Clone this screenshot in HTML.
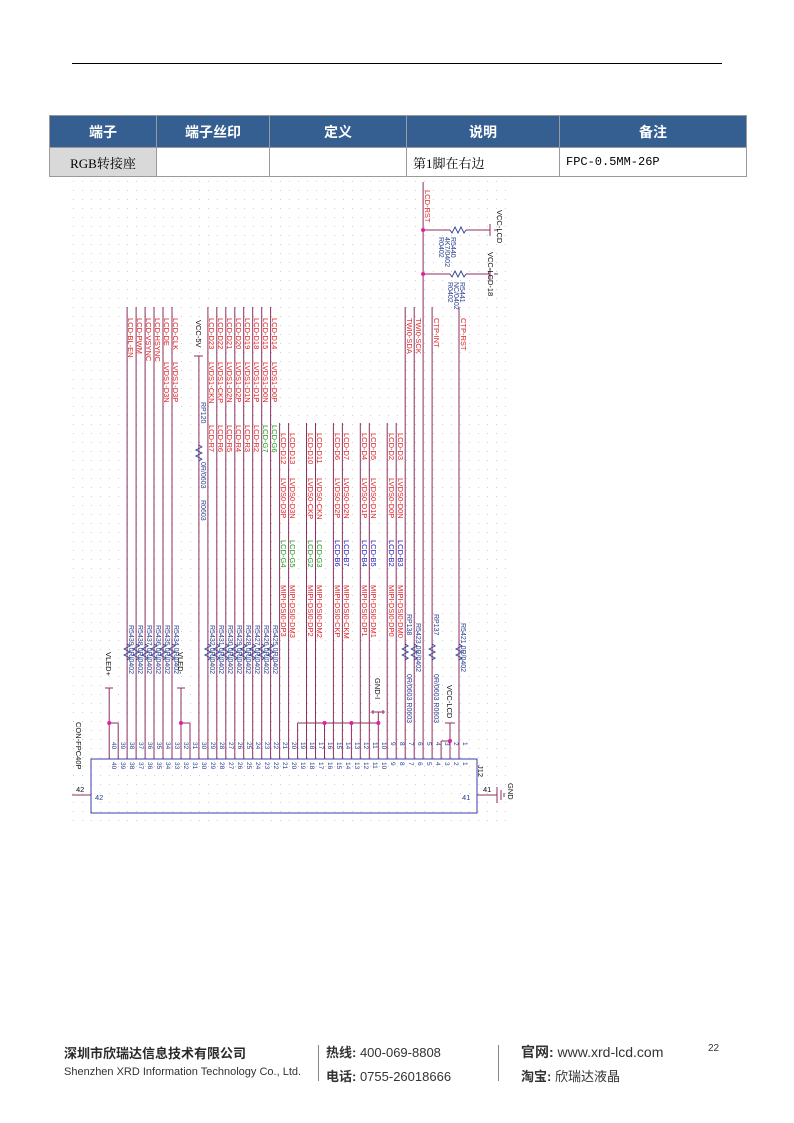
<!DOCTYPE html>
<html><head><meta charset="utf-8"><style>
body{margin:0;background:#fff;width:794px;height:1123px;position:relative;overflow:hidden;font-family:"Liberation Sans","Noto Sans CJK SC",sans-serif}
.hr{position:absolute;left:72px;top:63px;width:650px;height:1px;background:#000}
table{position:absolute;left:49px;top:115px;border-collapse:collapse;width:697px;table-layout:fixed}
td{border:1px solid #9a9a9a;height:28px;font-size:13px;padding:0 6px}
th{background:#355e91;color:#fff;height:29px;font-size:14px;font-weight:bold;border:1px solid #9a9a9a}
.s{font-family:"Liberation Serif","Noto Serif CJK SC",serif}
.ft{position:absolute;font-size:12px;color:#333;white-space:nowrap}
svg{position:absolute;left:0;top:0}
</style></head><body>
<div class="hr"></div>
<table><colgroup><col style="width:107px"><col style="width:113px"><col style="width:137px"><col style="width:153px"><col style="width:187px"></colgroup>
<tr><th>端子</th><th>端子丝印</th><th>定义</th><th>说明</th><th>备注</th></tr>
<tr><td class="s" style="background:#d9d9d9;text-align:center">RGB转接座</td><td></td><td></td><td class="s">第1脚在右边</td><td class="s" style="font-family:'Liberation Mono',monospace;font-size:12px">FPC-0.5MM-26P</td></tr></table>

<svg width="794" height="1123" viewBox="0 0 794 1123">
<defs>
<pattern id="g" x="1" y="1" width="9" height="9" patternUnits="userSpaceOnUse"><rect width="1" height="1" fill="#d0d0d0"/></pattern>
<path id="r" d="M0,0 l3,2 l-6,3 l6,3 l-6,3 l6,3 l-3,2" fill="none" stroke="#2a3d8f" stroke-width="0.9"/>
</defs>
<rect x="70" y="180" width="436" height="645" fill="url(#g)"/>
<g stroke="#8e2f5f" stroke-width="1" fill="none">
<path d="M127.1,307V759M136.1,307V759M145.1,307V759M154,307V759M163,307V759M172,307V759"/>
<path d="M109.2,688V759M118.2,723V759M109.2,723H118.2M105,688H113"/>
<path d="M181,688V759M190,723V759M181,723H190M177,688H185"/>
<path d="M198.9,356V759M194,356H203"/>
<path d="M207.9,307V759M216.8,307V759M225.8,307V759M234.8,307V759M243.7,307V759M252.7,307V759M261.7,307V759M270.6,307V759"/>
<path d="M279.6,423V759M288.6,423V759M306.5,423V759M315.5,423V759M333.4,423V759M342.4,423V759M360.3,423V759M369.3,423V759M387.2,423V759M396.2,423V759"/>
<path d="M297.6,723V759M324.5,723V759M351.4,723V759M378.3,723V759M297.6,723H378.3M378.3,712V723M371,712H385M373,710V714M383,710V714"/>
<path d="M405.2,307V759M414.2,307V759M423.1,182V759M432.1,307V759M459,307V759"/>
<path d="M423.1,230H450M466,230H490M423.1,274H450M466,274H490M490,224V236M490,268V280M494,230H498M494,274H498"/>
<path d="M450,723V759M441.1,741V759M441.1,741H450M445,723H455"/>
<path d="M91,759H477V813H91Z" stroke="#3b3bb0"/>
<path d="M72,795H91M477,795H497M497,787V803M501,790V800M504,793V797"/>
</g>
<g fill="#e0209f"><circle cx="109.2" cy="723" r="2"/><circle cx="181" cy="723" r="2"/><circle cx="324.5" cy="723" r="2"/><circle cx="351.4" cy="723" r="2"/><circle cx="378.3" cy="723" r="2"/><circle cx="423.1" cy="230" r="2"/><circle cx="423.1" cy="274" r="2"/><circle cx="450" cy="741" r="2"/></g>
<g>
<use href="#r" x="127.1" y="644"/><use href="#r" x="136.1" y="644"/><use href="#r" x="145.1" y="644"/><use href="#r" x="154" y="644"/><use href="#r" x="163" y="644"/><use href="#r" x="172" y="644"/>
<use href="#r" x="207.9" y="644"/><use href="#r" x="216.8" y="644"/><use href="#r" x="225.8" y="644"/><use href="#r" x="234.8" y="644"/><use href="#r" x="243.7" y="644"/><use href="#r" x="252.7" y="644"/><use href="#r" x="261.7" y="644"/><use href="#r" x="270.6" y="644"/>
<use href="#r" x="198.9" y="445"/><use href="#r" x="405.2" y="644"/><use href="#r" x="414.2" y="644"/><use href="#r" x="432.1" y="644"/><use href="#r" x="459" y="644"/>
</g>
<g stroke="#2a3d8f" stroke-width="0.9" fill="none"><path d="M450,230 l2,3 l3,-6 l3,6 l3,-6 l3,6 l2,-3M450,274 l2,3 l3,-6 l3,6 l3,-6 l3,6 l2,-3"/></g>
<g font-family="Liberation Sans,sans-serif" font-size="7.5" fill="#e02020">
<text transform="translate(128,318) rotate(90)">LCD-BL-EN</text>
<text transform="translate(137,318) rotate(90)">LCD-PWM</text>
<text transform="translate(146,318) rotate(90)">LCD-VSYNC</text>
<text transform="translate(155,318) rotate(90)">LCD-HSYNC</text>
<text transform="translate(164,318) rotate(90)">LCD-DE</text><text transform="translate(164,362) rotate(90)">LVDS1-D3N</text>
<text transform="translate(173,318) rotate(90)">LCD-CLK</text><text transform="translate(173,362) rotate(90)">LVDS1-D3P</text>
<text transform="translate(209,318) rotate(90)">LCD-D23</text><text transform="translate(209,362) rotate(90)">LVDS1-CKN</text>
<text transform="translate(218,318) rotate(90)">LCD-D22</text><text transform="translate(218,362) rotate(90)">LVDS1-CKP</text>
<text transform="translate(227,318) rotate(90)">LCD-D21</text><text transform="translate(227,362) rotate(90)">LVDS1-D2N</text>
<text transform="translate(236,318) rotate(90)">LCD-D20</text><text transform="translate(236,362) rotate(90)">LVDS1-D2P</text>
<text transform="translate(245,318) rotate(90)">LCD-D19</text><text transform="translate(245,362) rotate(90)">LVDS1-D1N</text>
<text transform="translate(254,318) rotate(90)">LCD-D18</text><text transform="translate(254,362) rotate(90)">LVDS1-D1P</text>
<text transform="translate(263,318) rotate(90)">LCD-D15</text><text transform="translate(263,362) rotate(90)">LVDS1-D0N</text>
<text transform="translate(272,318) rotate(90)">LCD-D14</text><text transform="translate(272,362) rotate(90)">LVDS1-D0P</text>
<text transform="translate(209,425) rotate(90)">LCD-R7</text><text transform="translate(218,425) rotate(90)">LCD-R6</text><text transform="translate(227,425) rotate(90)">LCD-R5</text><text transform="translate(236,425) rotate(90)">LCD-R4</text><text transform="translate(245,425) rotate(90)">LCD-R3</text><text transform="translate(254,425) rotate(90)">LCD-R2</text>
<text transform="translate(281,433) rotate(90)">LCD-D12</text><text transform="translate(290,433) rotate(90)">LCD-D13</text>
<text transform="translate(308,433) rotate(90)">LCD-D10</text><text transform="translate(317,433) rotate(90)">LCD-D11</text>
<text transform="translate(335,433) rotate(90)">LCD-D6</text><text transform="translate(344,433) rotate(90)">LCD-D7</text>
<text transform="translate(362,433) rotate(90)">LCD-D4</text><text transform="translate(371,433) rotate(90)">LCD-D5</text>
<text transform="translate(389,433) rotate(90)">LCD-D2</text><text transform="translate(398,433) rotate(90)">LCD-D3</text>
<text transform="translate(281,478) rotate(90)">LVDS0-D3P</text><text transform="translate(290,478) rotate(90)">LVDS0-D3N</text>
<text transform="translate(308,478) rotate(90)">LVDS0-CKP</text><text transform="translate(317,478) rotate(90)">LVDS0-CKN</text>
<text transform="translate(335,478) rotate(90)">LVDS0-D2P</text><text transform="translate(344,478) rotate(90)">LVDS0-D2N</text>
<text transform="translate(362,478) rotate(90)">LVDS0-D1P</text><text transform="translate(371,478) rotate(90)">LVDS0-D1N</text>
<text transform="translate(389,478) rotate(90)">LVDS0-D0P</text><text transform="translate(398,478) rotate(90)">LVDS0-D0N</text>
<text transform="translate(281,585) rotate(90)">MIPI-DSI0-DP3</text><text transform="translate(290,585) rotate(90)">MIPI-DSI0-DM3</text>
<text transform="translate(308,585) rotate(90)">MIPI-DSI0-DP2</text><text transform="translate(317,585) rotate(90)">MIPI-DSI0-DM2</text>
<text transform="translate(335,585) rotate(90)">MIPI-DSI0-CKP</text><text transform="translate(344,585) rotate(90)">MIPI-DSI0-CKM</text>
<text transform="translate(362,585) rotate(90)">MIPI-DSI0-DP1</text><text transform="translate(371,585) rotate(90)">MIPI-DSI0-DM1</text>
<text transform="translate(389,585) rotate(90)">MIPI-DSI0-DP0</text><text transform="translate(398,585) rotate(90)">MIPI-DSI0-DM0</text>
<text transform="translate(407,318) rotate(90)">TWI0-SDA</text><text transform="translate(416,318) rotate(90)">TWI0-SCK</text>
<text transform="translate(425,190) rotate(90)">LCD-RST</text>
<text transform="translate(434,318) rotate(90)">CTP-INT</text>
<text transform="translate(461,318) rotate(90)">CTP-RST</text>
</g>
<g font-family="Liberation Sans,sans-serif" font-size="7.5" fill="#1a9a1a">
<text transform="translate(263,425) rotate(90)">LCD-G7</text><text transform="translate(272,425) rotate(90)">LCD-G6</text>
<text transform="translate(281,540) rotate(90)">LCD-G4</text><text transform="translate(290,540) rotate(90)">LCD-G5</text>
<text transform="translate(308,540) rotate(90)">LCD-G2</text><text transform="translate(317,540) rotate(90)">LCD-G3</text>
</g>
<g font-family="Liberation Sans,sans-serif" font-size="7.5" fill="#2020c0">
<text transform="translate(335,540) rotate(90)">LCD-B6</text><text transform="translate(344,540) rotate(90)">LCD-B7</text>
<text transform="translate(362,540) rotate(90)">LCD-B4</text><text transform="translate(371,540) rotate(90)">LCD-B5</text>
<text transform="translate(389,540) rotate(90)">LCD-B2</text><text transform="translate(398,540) rotate(90)">LCD-B3</text>
</g>
<g font-family="Liberation Sans,sans-serif" font-size="7" fill="#2a3d8f">
<text transform="translate(129,625) rotate(90)">R5439 0R/0402</text><text transform="translate(138,625) rotate(90)">R5438 0R/0402</text><text transform="translate(147,625) rotate(90)">R5437 0R/0402</text><text transform="translate(156,625) rotate(90)">R5436 0R/0402</text><text transform="translate(165,625) rotate(90)">R5435 0R/0402</text><text transform="translate(174,625) rotate(90)">R5434 0R/0402</text>
<text transform="translate(210,625) rotate(90)">R5432 0R/0402</text><text transform="translate(219,625) rotate(90)">R5431 0R/0402</text><text transform="translate(228,625) rotate(90)">R5430 0R/0402</text><text transform="translate(237,625) rotate(90)">R5429 0R/0402</text><text transform="translate(246,625) rotate(90)">R5428 0R/0402</text><text transform="translate(255,625) rotate(90)">R5427 0R/0402</text><text transform="translate(264,625) rotate(90)">R5426 0R/0402</text><text transform="translate(273,625) rotate(90)">R5425 0R/0402</text>
<text transform="translate(201,402) rotate(90)">RP120</text><text transform="translate(201,462) rotate(90)">0R/0603</text><text transform="translate(201,500) rotate(90)">R0603</text>
<text transform="translate(407,614) rotate(90)">RP138</text><text transform="translate(407,674) rotate(90)">0R/0603 R0603</text>
<text transform="translate(416,623) rotate(90)">R5423 0R/0402</text>
<text transform="translate(434,614) rotate(90)">RP137</text><text transform="translate(434,674) rotate(90)">0R/0603 R0603</text>
<text transform="translate(461,623) rotate(90)">R5421 0R/0402</text>
<text transform="translate(451,237) rotate(90)">R5440</text><text transform="translate(445,237) rotate(90)">4K7/0402</text><text transform="translate(439,237) rotate(90)">R0402</text>
<text transform="translate(460,282) rotate(90)">R5441</text><text transform="translate(454,282) rotate(90)">NC/0402</text><text transform="translate(448,282) rotate(90)">R0402</text>
</g>
<g font-family="Liberation Sans,sans-serif" font-size="7.5" fill="#111">
<text transform="translate(196,320) rotate(90)">VCC-5V</text>
<text transform="translate(106,652) rotate(90)">VLED+</text>
<text transform="translate(178,652) rotate(90)">VLED-</text>
<text transform="translate(375,678) rotate(90)">GND-I</text>
<text transform="translate(447,685) rotate(90)">VCC-LCD</text>
<text transform="translate(497,210) rotate(90)">VCC-LCD</text>
<text transform="translate(488,252) rotate(90)">VCC-LCD-18</text>
<text transform="translate(76,722) rotate(90)">CON-FPC40P</text>
<text transform="translate(478,765) rotate(90)">J12</text>
<text transform="translate(508,783) rotate(90)">GND</text>
</g>
<g font-family="Liberation Sans,sans-serif" font-size="6.5" fill="#2a3d8f">
<text transform="translate(112,742) rotate(90)">40</text><text transform="translate(121,742) rotate(90)">39</text><text transform="translate(130,742) rotate(90)">38</text><text transform="translate(139,742) rotate(90)">37</text><text transform="translate(148,742) rotate(90)">36</text><text transform="translate(157,742) rotate(90)">35</text><text transform="translate(166,742) rotate(90)">34</text><text transform="translate(175,742) rotate(90)">33</text><text transform="translate(184,742) rotate(90)">32</text><text transform="translate(193,742) rotate(90)">31</text><text transform="translate(202,742) rotate(90)">30</text><text transform="translate(211,742) rotate(90)">29</text><text transform="translate(220,742) rotate(90)">28</text><text transform="translate(229,742) rotate(90)">27</text><text transform="translate(238,742) rotate(90)">26</text><text transform="translate(247,742) rotate(90)">25</text><text transform="translate(256,742) rotate(90)">24</text><text transform="translate(265,742) rotate(90)">23</text><text transform="translate(274,742) rotate(90)">22</text><text transform="translate(283,742) rotate(90)">21</text><text transform="translate(292,742) rotate(90)">20</text><text transform="translate(301,742) rotate(90)">19</text><text transform="translate(310,742) rotate(90)">18</text><text transform="translate(319,742) rotate(90)">17</text><text transform="translate(328,742) rotate(90)">16</text><text transform="translate(337,742) rotate(90)">15</text><text transform="translate(346,742) rotate(90)">14</text><text transform="translate(355,742) rotate(90)">13</text><text transform="translate(364,742) rotate(90)">12</text><text transform="translate(373,742) rotate(90)">11</text><text transform="translate(382,742) rotate(90)">10</text><text transform="translate(391,742) rotate(90)">9</text><text transform="translate(400,742) rotate(90)">8</text><text transform="translate(409,742) rotate(90)">7</text><text transform="translate(418,742) rotate(90)">6</text><text transform="translate(427,742) rotate(90)">5</text><text transform="translate(436,742) rotate(90)">4</text><text transform="translate(445,742) rotate(90)">3</text><text transform="translate(454,742) rotate(90)">2</text><text transform="translate(463,742) rotate(90)">1</text>
<text transform="translate(112,762) rotate(90)">40</text><text transform="translate(121,762) rotate(90)">39</text><text transform="translate(130,762) rotate(90)">38</text><text transform="translate(139,762) rotate(90)">37</text><text transform="translate(148,762) rotate(90)">36</text><text transform="translate(157,762) rotate(90)">35</text><text transform="translate(166,762) rotate(90)">34</text><text transform="translate(175,762) rotate(90)">33</text><text transform="translate(184,762) rotate(90)">32</text><text transform="translate(193,762) rotate(90)">31</text><text transform="translate(202,762) rotate(90)">30</text><text transform="translate(211,762) rotate(90)">29</text><text transform="translate(220,762) rotate(90)">28</text><text transform="translate(229,762) rotate(90)">27</text><text transform="translate(238,762) rotate(90)">26</text><text transform="translate(247,762) rotate(90)">25</text><text transform="translate(256,762) rotate(90)">24</text><text transform="translate(265,762) rotate(90)">23</text><text transform="translate(274,762) rotate(90)">22</text><text transform="translate(283,762) rotate(90)">21</text><text transform="translate(292,762) rotate(90)">20</text><text transform="translate(301,762) rotate(90)">19</text><text transform="translate(310,762) rotate(90)">18</text><text transform="translate(319,762) rotate(90)">17</text><text transform="translate(328,762) rotate(90)">16</text><text transform="translate(337,762) rotate(90)">15</text><text transform="translate(346,762) rotate(90)">14</text><text transform="translate(355,762) rotate(90)">13</text><text transform="translate(364,762) rotate(90)">12</text><text transform="translate(373,762) rotate(90)">11</text><text transform="translate(382,762) rotate(90)">10</text><text transform="translate(391,762) rotate(90)">9</text><text transform="translate(400,762) rotate(90)">8</text><text transform="translate(409,762) rotate(90)">7</text><text transform="translate(418,762) rotate(90)">6</text><text transform="translate(427,762) rotate(90)">5</text><text transform="translate(436,762) rotate(90)">4</text><text transform="translate(445,762) rotate(90)">3</text><text transform="translate(454,762) rotate(90)">2</text><text transform="translate(463,762) rotate(90)">1</text>
<text x="95" y="800" font-size="7.5">42</text><text x="462" y="800" font-size="7.5">41</text>
<text x="76" y="792" font-size="7.5" fill="#111">42</text><text x="483" y="792" font-size="7.5" fill="#111">41</text>
</g>
</svg>

<div class="ft" style="left:64px;top:1043px;font-size:13px;font-weight:bold;color:#2a2a2a">深圳市欣瑞达信息技术有限公司</div>
<div class="ft" style="left:64px;top:1066px;font-size:11px">Shenzhen XRD Information Technology Co., Ltd.</div>
<div style="position:absolute;left:318px;top:1045px;width:1px;height:36px;background:#888"></div>
<div class="ft" style="left:326px;top:1042px;font-size:13px"><b>热线:</b> 400-069-8808</div>
<div class="ft" style="left:326px;top:1066px;font-size:13px"><b>电话:</b> 0755-26018666</div>
<div style="position:absolute;left:498px;top:1045px;width:1px;height:36px;background:#888"></div>
<div class="ft" style="left:521px;top:1042px;font-size:14px"><b>官网:</b> www.xrd-lcd.com</div>
<div class="ft" style="left:521px;top:1066px;font-size:13px"><b>淘宝:</b> 欣瑞达液晶</div>
<div class="ft" style="left:708px;top:1043px;font-size:10px">22</div>
</body></html>
